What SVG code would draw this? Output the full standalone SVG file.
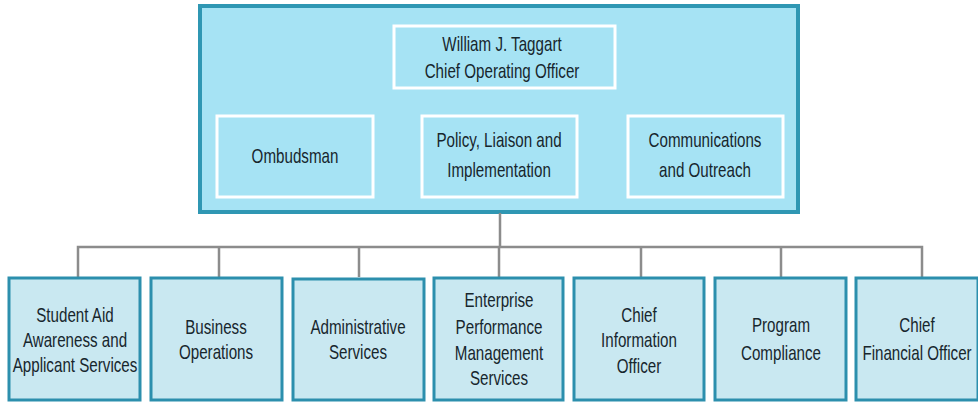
<svg xmlns="http://www.w3.org/2000/svg" width="978" height="402" viewBox="0 0 978 402">
<style>
text{font-family:"Liberation Sans",Arial,sans-serif;font-size:20.5px;fill:#17262d;text-anchor:middle}
.outer{fill:#a6e3f4;stroke:#2f97b3;stroke-width:4}
.inner{fill:#a6e3f4;stroke:#ffffff;stroke-width:3}
.unit{fill:#c9e8f1;stroke:#2c8fad;stroke-width:3}
.conn{fill:none;stroke:#8c8c8c;stroke-width:2.5}
</style>
<rect width="978" height="402" fill="#ffffff"/>
<g id="office">
<rect class="outer" x="200" y="6" width="598" height="206"/>
</g>
<g id="coo">
<rect class="inner" x="394" y="26" width="221" height="62"/>
<text transform="translate(502 51) scale(.74 1)">William J. Taggart</text>
<text transform="translate(502 78) scale(.74 1)">Chief Operating Officer</text>
</g>
<g id="ombudsman">
<rect class="inner" x="217" y="116" width="156" height="81"/>
<text transform="translate(295 163) scale(.74 1)">Ombudsman</text>
</g>
<g id="policy">
<rect class="inner" x="422" y="116" width="155" height="81"/>
<text transform="translate(499 147) scale(.74 1)">Policy, Liaison and</text>
<text transform="translate(499 177) scale(.74 1)">Implementation</text>
</g>
<g id="communications">
<rect class="inner" x="628" y="116" width="155" height="81"/>
<text transform="translate(705 147) scale(.74 1)">Communications</text>
<text transform="translate(705 177) scale(.74 1)">and Outreach</text>
</g>
<g id="connectors">
<path class="conn" d="M500 213 V247 M78 277 V247 H922 V277 M219 247 V277 M359 247 V277 M499 247 V277 M641 247 V277 M781 247 V277"/>
</g>
<g id="student-aid">
<rect class="unit" x="9" y="278" width="131" height="122"/>
<text transform="translate(75 322) scale(.74 1)">Student Aid</text>
<text transform="translate(75 347) scale(.74 1)">Awareness and</text>
<text transform="translate(75 372) scale(.74 1)">Applicant Services</text>
</g>
<g id="business-operations">
<rect class="unit" x="151" y="278" width="131" height="122"/>
<text transform="translate(216 334) scale(.74 1)">Business</text>
<text transform="translate(216 359) scale(.74 1)">Operations</text>
</g>
<g id="administrative-services">
<rect class="unit" x="293" y="279" width="131" height="121"/>
<text transform="translate(358 334) scale(.74 1)">Administrative</text>
<text transform="translate(358 359) scale(.74 1)">Services</text>
</g>
<g id="enterprise-performance">
<rect class="unit" x="434" y="278" width="129" height="122"/>
<text transform="translate(499 307) scale(.74 1)">Enterprise</text>
<text transform="translate(499 334) scale(.74 1)">Performance</text>
<text transform="translate(499 360) scale(.74 1)">Management</text>
<text transform="translate(499 385) scale(.74 1)">Services</text>
</g>
<g id="cio">
<rect class="unit" x="574" y="278" width="130" height="122"/>
<text transform="translate(639 322) scale(.74 1)">Chief</text>
<text transform="translate(639 347) scale(.74 1)">Information</text>
<text transform="translate(639 373) scale(.74 1)">Officer</text>
</g>
<g id="program-compliance">
<rect class="unit" x="715" y="278" width="131" height="122"/>
<text transform="translate(781 332) scale(.74 1)">Program</text>
<text transform="translate(781 360) scale(.74 1)">Compliance</text>
</g>
<g id="cfo">
<rect class="unit" x="856" y="278" width="122" height="122"/>
<text transform="translate(917 332) scale(.74 1)">Chief</text>
<text transform="translate(917 360) scale(.74 1)">Financial Officer</text>
</g>
</svg>
